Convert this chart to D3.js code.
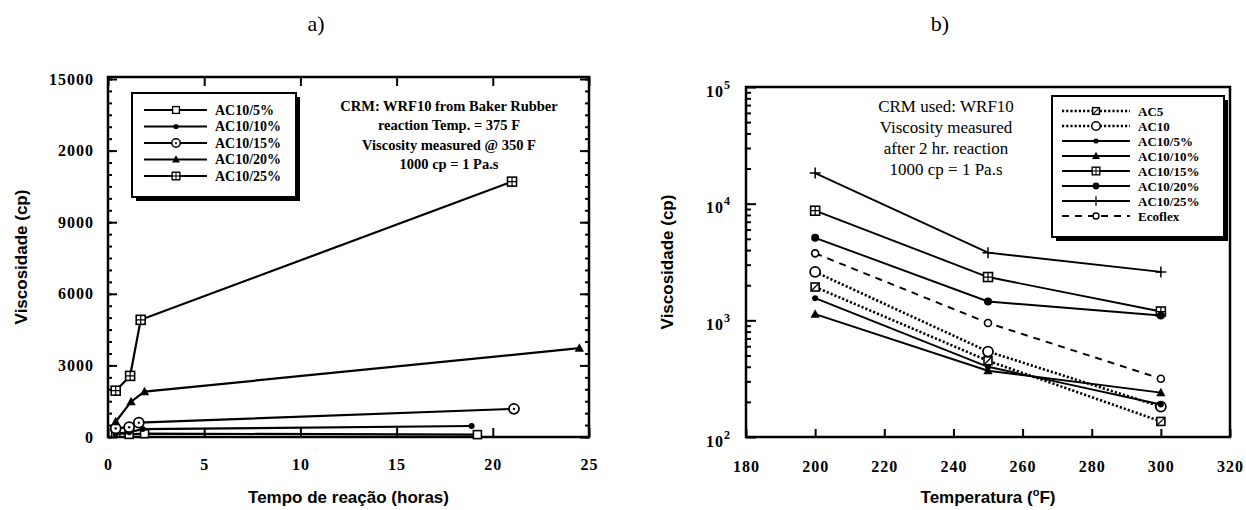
<!DOCTYPE html>
<html>
<head>
<meta charset="utf-8">
<script src="https://cdn.jsdelivr.net/npm/d3@7"></script>
<style>
  body { margin: 0; background: #fff; }
  svg { display: block; }
</style>
</head>
<body>
<svg id="chart" width="1246" height="510"></svg>
<script>
// ---------- panel a) viscosity versus reaction time ----------
const hoursTicks = [0, 5, 10, 15, 20, 25];
const viscTicks = [0, 3000, 6000, 9000, 12000, 15000];
const viscTickLabels = ["0", "3000", "6000", "9000", "2000", "15000"];
const seriesNamesA = ["AC10/5%", "AC10/10%", "AC10/15%", "AC10/20%", "AC10/25%"];
const hoursAC10_5 = [0.4, 1.1, 1.9, 19.2];
const viscAC10_5 = [170, 110, 140, 100];
const hoursAC10_10 = [0.4, 1.1, 1.8, 18.9];
const viscAC10_10 = [140, 200, 330, 460];
const hoursAC10_15 = [0.4, 1.1, 1.6, 21.1];
const viscAC10_15 = [360, 410, 600, 1180];
const hoursAC10_20 = [0.4, 1.2, 1.9, 24.5];
const viscAC10_20 = [640, 1480, 1900, 3720];
const hoursAC10_25 = [0.4, 1.15, 1.7, 21.0];
const viscAC10_25 = [1940, 2560, 4910, 10700];
const notesA = ["CRM: WRF10 from Baker Rubber", "reaction Temp. = 375 F",
                "Viscosity measured @ 350 F", "1000 cp = 1 Pa.s"];

// ---------- panel b) viscosity versus temperature ----------
const tempTicks = [180, 200, 220, 240, 260, 280, 300, 320];
const decadeTicks = [100, 1000, 10000, 100000];
const tempsB = [200, 250, 300];
const seriesNamesB = ["AC5", "AC10", "AC10/5%", "AC10/10%", "AC10/15%", "AC10/20%", "AC10/25%", "Ecoflex"];
const viscAC5 = [1930, 450, 136];
const viscAC10 = [2600, 540, 182];
const viscB_AC10_5 = [1550, 400, 190];
const viscB_AC10_10 = [1130, 370, 240];
const viscB_AC10_15 = [8700, 2350, 1190];
const viscB_AC10_20 = [5100, 1450, 1100];
const viscB_AC10_25 = [18300, 3800, 2600];
const viscEcoflex = [3750, 950, 316];
const notesB = ["CRM used: WRF10", "Viscosity measured", "after 2 hr. reaction", "1000 cp = 1 Pa.s"];

const SERIF = "'Liberation Serif', 'Times New Roman', serif";
const SANS = "'Liberation Sans', Arial, sans-serif";
const svg = d3.select("#chart");

// ---------- marker glyphs ----------
function drawMarker(g, type, x, y, s = 1) {
  const m = g.append("g").attr("transform", `translate(${x},${y}) scale(${s})`);
  const sw = 1.6;
  switch (type) {
    case "square":
      m.append("rect").attr("x", -4).attr("y", -4).attr("width", 8).attr("height", 8)
        .attr("fill", "#fff").attr("stroke", "#000").attr("stroke-width", sw);
      break;
    case "squareSlash":
      m.append("rect").attr("x", -4).attr("y", -4).attr("width", 8).attr("height", 8)
        .attr("fill", "#fff").attr("stroke", "#000").attr("stroke-width", sw);
      m.append("line").attr("x1", -4).attr("y1", 4).attr("x2", 4).attr("y2", -4)
        .attr("stroke", "#000").attr("stroke-width", 1.2);
      break;
    case "squareCross":
      m.append("rect").attr("x", -4.5).attr("y", -4.5).attr("width", 9).attr("height", 9)
        .attr("fill", "#fff").attr("stroke", "#000").attr("stroke-width", sw);
      m.append("path").attr("d", "M0,-4.5V4.5M-4.5,0H4.5")
        .attr("stroke", "#000").attr("stroke-width", 1.2);
      break;
    case "dot":
      m.append("circle").attr("r", 3).attr("fill", "#000");
      break;
    case "bigDot":
      m.append("circle").attr("r", 4).attr("fill", "#000");
      break;
    case "circleDot":
      m.append("circle").attr("r", 5).attr("fill", "#fff").attr("stroke", "#000").attr("stroke-width", 1.8);
      m.append("circle").attr("r", 1.2).attr("fill", "#000");
      break;
    case "circle":
      m.append("circle").attr("r", 5).attr("fill", "#fff").attr("stroke", "#000").attr("stroke-width", 1.8);
      break;
    case "smallCircle":
      m.append("circle").attr("r", 3.5).attr("fill", "#fff").attr("stroke", "#000").attr("stroke-width", 1.6);
      break;
    case "triangle":
      m.append("path").attr("d", "M0,-5L4.6,3.5H-4.6Z").attr("fill", "#000");
      break;
    case "plus":
      m.append("path").attr("d", "M0,-5.5V5.5M-5.5,0H5.5").attr("stroke", "#000").attr("stroke-width", 1.5);
      break;
  }
}

function drawSeries(g, xs, ys, x, y, type, dash, width) {
  const pts = xs.map((v, i) => [x(v), y(ys[i])]);
  g.append("path").attr("d", d3.line()(pts)).attr("fill", "none")
    .attr("stroke", "#000").attr("stroke-width", width)
    .attr("stroke-dasharray", dash || null);
  pts.forEach(p => drawMarker(g, type, p[0], p[1]));
}

function styleAxis(g, size) {
  g.select(".domain").remove();
  g.selectAll("text").attr("font-family", SERIF).attr("font-weight", "bold")
    .attr("font-size", size).attr("letter-spacing", 1).attr("fill", "#000");
  g.selectAll("line").attr("stroke", "#000").attr("stroke-width", 2);
}

// ================= panel a =================
const xL = d3.scaleLinear().domain([0, 25]).range([108, 589]);
const yL = d3.scaleLinear().domain([0, 15000]).range([437, 79]);
const gA = svg.append("g");

gA.append("text").attr("x", 316).attr("y", 31).attr("text-anchor", "middle")
  .attr("font-family", SERIF).attr("font-size", 22).text("a)");

// minor and major ticks, inward on every side
const minorA = d3.range(0, 15001, 500);
gA.append("g").attr("transform", `translate(${xL(0)},0)`)
  .call(d3.axisLeft(yL).tickValues(minorA).tickSize(-4).tickFormat(""))
  .call(g => styleAxis(g, 16));
gA.append("g").attr("transform", `translate(${xL(25)},0)`)
  .call(d3.axisRight(yL).tickValues(minorA).tickSize(-4).tickFormat(""))
  .call(g => styleAxis(g, 16));
gA.append("g").attr("transform", `translate(${xL(0)},0)`)
  .call(d3.axisLeft(yL).tickValues(viscTicks).tickSize(-9).tickPadding(14)
    .tickFormat((d, i) => viscTickLabels[i]))
  .call(g => styleAxis(g, 16));
gA.append("g").attr("transform", `translate(${xL(25)},0)`)
  .call(d3.axisRight(yL).tickValues(viscTicks).tickSize(-9).tickFormat(""))
  .call(g => styleAxis(g, 16));
gA.append("g").attr("transform", `translate(0,${yL(0)})`)
  .call(d3.axisBottom(xL).tickValues(hoursTicks).tickSize(-9).tickPadding(22))
  .call(g => styleAxis(g, 16));
gA.append("g").attr("transform", `translate(0,77)`)
  .call(d3.axisTop(xL).tickValues(hoursTicks).tickSize(-9).tickFormat(""))
  .call(g => styleAxis(g, 16));

gA.append("rect").attr("x", xL(0)).attr("y", 77).attr("width", xL(25) - xL(0)).attr("height", yL(0) - 77)
  .attr("fill", "none").attr("stroke", "#000").attr("stroke-width", 2.5);

gA.append("text").attr("transform", `translate(27,${(77 + 437) / 2}) rotate(-90)`)
  .attr("text-anchor", "middle").attr("font-family", SANS).attr("font-weight", "bold")
  .attr("font-size", 17).text("Viscosidade (cp)");
gA.append("text").attr("x", (xL(0) + xL(25)) / 2).attr("y", 503).attr("text-anchor", "middle")
  .attr("font-family", SANS).attr("font-weight", "bold").attr("font-size", 17)
  .text("Tempo de reação (horas)");

const seriesA = [
  [hoursAC10_5, viscAC10_5, "square"],
  [hoursAC10_10, viscAC10_10, "dot"],
  [hoursAC10_15, viscAC10_15, "circleDot"],
  [hoursAC10_20, viscAC10_20, "triangle"],
  [hoursAC10_25, viscAC10_25, "squareCross"]
];
const plotA = gA.append("g");
seriesA.forEach(s => drawSeries(plotA, s[0], s[1], xL, yL, s[2], null, 2.2));

// legend with drop shadow
const legA = gA.append("g");
legA.append("rect").attr("x", 136).attr("y", 97).attr("width", 164).attr("height", 104).attr("fill", "#000");
legA.append("rect").attr("x", 132).attr("y", 93).attr("width", 164).attr("height", 104)
  .attr("fill", "#fff").attr("stroke", "#000").attr("stroke-width", 2);
seriesNamesA.forEach((name, i) => {
  const yy = 110 + i * 16.5;
  legA.append("line").attr("x1", 144).attr("x2", 207).attr("y1", yy).attr("y2", yy)
    .attr("stroke", "#000").attr("stroke-width", 2);
  drawMarker(legA, seriesA[i][2], 176, yy, 0.85);
  legA.append("text").attr("x", 215).attr("y", yy).attr("dy", "0.35em")
    .attr("font-family", SERIF).attr("font-weight", "bold").attr("font-size", 14).text(name);
});

notesA.forEach((t, i) => {
  gA.append("text").attr("x", 449).attr("y", 106 + i * 19.3).attr("dy", "0.35em")
    .attr("text-anchor", "middle").attr("font-family", SERIF).attr("font-weight", "bold")
    .attr("font-size", 14.5).text(t);
});

// ================= panel b =================
const xR = d3.scaleLinear().domain([180, 320]).range([746, 1230]);
const yR = d3.scaleLog().domain([100, 100000]).range([437, 87]);
const gB = svg.append("g");

gB.append("text").attr("x", 940).attr("y", 31).attr("text-anchor", "middle")
  .attr("font-family", SERIF).attr("font-size", 22).text("b)");

const minorB = [];
[100, 1000, 10000].forEach(d => { for (let k = 2; k <= 9; k++) minorB.push(d * k); });
gB.append("g").attr("transform", `translate(${xR(180)},0)`)
  .call(d3.axisLeft(yR).tickValues(minorB).tickSize(-5).tickFormat(""))
  .call(g => styleAxis(g, 16));
gB.append("g").attr("transform", `translate(${xR(180)},0)`)
  .call(d3.axisLeft(yR).tickValues(decadeTicks).tickSize(-10).tickFormat(""))
  .call(g => styleAxis(g, 16));
decadeTicks.forEach(d => {
  const t = gB.append("text").attr("x", 731).attr("y", yR(d) + 4).attr("dy", "0.35em")
    .attr("text-anchor", "end").attr("font-family", SERIF).attr("font-weight", "bold")
    .attr("font-size", 16).attr("letter-spacing", 1);
  t.append("tspan").text("10");
  t.append("tspan").attr("dy", -8).attr("font-size", 12).text(Math.round(Math.log10(d)));
});
gB.append("g").attr("transform", `translate(0,${yR(100)})`)
  .call(d3.axisBottom(xR).tickValues(tempTicks).tickSize(-8).tickPadding(24))
  .call(g => styleAxis(g, 16));

gB.append("rect").attr("x", xR(180)).attr("y", yR(100000)).attr("width", xR(320) - xR(180))
  .attr("height", yR(100) - yR(100000)).attr("fill", "none").attr("stroke", "#000").attr("stroke-width", 2.5);

gB.append("text").attr("transform", `translate(673,${(87 + 437) / 2}) rotate(-90)`)
  .attr("text-anchor", "middle").attr("font-family", SANS).attr("font-weight", "bold")
  .attr("font-size", 17).text("Viscosidade (cp)");
const xt = gB.append("text").attr("x", (xR(180) + xR(320)) / 2).attr("y", 503).attr("text-anchor", "middle")
  .attr("font-family", SANS).attr("font-weight", "bold").attr("font-size", 17);
xt.append("tspan").text("Temperatura (");
xt.append("tspan").attr("dy", -7).attr("font-size", 11).text("o");
xt.append("tspan").attr("dy", 7).text("F)");

const seriesB = [
  [viscAC5, "squareSlash", "2.2,2"],
  [viscAC10, "circle", "2.2,2"],
  [viscB_AC10_5, "dot", null],
  [viscB_AC10_10, "triangle", null],
  [viscB_AC10_15, "squareCross", null],
  [viscB_AC10_20, "bigDot", null],
  [viscB_AC10_25, "plus", null],
  [viscEcoflex, "smallCircle", "7,6"]
];
const plotB = gB.append("g");
seriesB.forEach(s => drawSeries(plotB, tempsB, s[0], xR, yR, s[1], s[2], s[2] && s[2].startsWith("2") ? 2.6 : 1.9));

const legB = gB.append("g");
legB.append("rect").attr("x", 1056).attr("y", 100).attr("width", 172).attr("height", 141).attr("fill", "#000");
legB.append("rect").attr("x", 1052).attr("y", 96).attr("width", 172).attr("height", 141)
  .attr("fill", "#fff").attr("stroke", "#000").attr("stroke-width", 2);
seriesNamesB.forEach((name, i) => {
  const yy = 111 + i * 15;
  const dash = seriesB[i][2];
  legB.append("line").attr("x1", 1062).attr("x2", 1130).attr("y1", yy).attr("y2", yy)
    .attr("stroke", "#000").attr("stroke-width", dash && dash.startsWith("2") ? 2.4 : 1.8)
    .attr("stroke-dasharray", dash || null);
  drawMarker(legB, seriesB[i][1], 1096, yy, 0.85);
  legB.append("text").attr("x", 1138).attr("y", yy).attr("dy", "0.35em")
    .attr("font-family", SERIF).attr("font-weight", "bold").attr("font-size", 13).text(name);
});

notesB.forEach((t, i) => {
  gB.append("text").attr("x", 946).attr("y", 106 + i * 21).attr("dy", "0.35em")
    .attr("text-anchor", "middle").attr("font-family", SERIF)
    .attr("font-size", 17).text(t);
});
</script>
</body>
</html>
